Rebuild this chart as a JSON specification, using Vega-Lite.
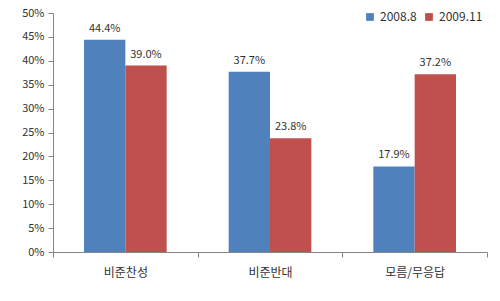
{
  "$schema": "https://vega.github.io/schema/vega-lite/v6.json",
  "autosize": "none",
  "width": 434,
  "height": 239,
  "padding": {"left": 53, "top": 13, "right": 13, "bottom": 49},
  "background": "white",
  "config": {
    "view": {"stroke": null},
    "font": "Noto Sans CJK KR",
    "axis": {"domainColor": "#868686", "tickColor": "#868686", "labelColor": "#333333", "labelFont": "Noto Sans CJK KR", "grid": false, "title": null}
  },
  "data": {
    "values": [
      {"category": "비준찬성", "series": "2008.8", "value": 0.444},
      {"category": "비준찬성", "series": "2009.11", "value": 0.390},
      {"category": "비준반대", "series": "2008.8", "value": 0.377},
      {"category": "비준반대", "series": "2009.11", "value": 0.238},
      {"category": "모름/무응답", "series": "2008.8", "value": 0.179},
      {"category": "모름/무응답", "series": "2009.11", "value": 0.372}
    ]
  },
  "encoding": {
    "x": {
      "field": "category", "type": "nominal", "sort": null,
      "scale": {"paddingInner": 0, "paddingOuter": 0},
      "axis": {"labelAngle": 0, "tickBand": "extent", "tickSize": 5, "labelFontSize": 12, "labelPadding": 10}
    },
    "xOffset": {"field": "series", "type": "nominal", "scale": {"paddingOuter": 0.75, "paddingInner": 0}},
    "y": {
      "field": "value", "type": "quantitative",
      "scale": {"domain": [0, 0.5]},
      "axis": {"format": ".0%", "values": [0, 0.05, 0.1, 0.15, 0.2, 0.25, 0.3, 0.35, 0.4, 0.45, 0.5], "tickSize": 5, "labelFontSize": 11, "labelPadding": 4}
    }
  },
  "layer": [
    {
      "mark": {"type": "bar"},
      "encoding": {
        "color": {
          "field": "series", "type": "nominal",
          "scale": {"domain": ["2008.8", "2009.11"], "range": ["#4F81BD", "#C0504D"]},
          "legend": {"orient": "none", "legendX": 311, "legendY": -2, "direction": "horizontal", "title": null, "symbolType": "square", "symbolSize": 60, "labelFontSize": 12, "labelColor": "#333333", "columnPadding": 6, "symbolStrokeWidth": 0}
        }
      }
    },
    {
      "mark": {"type": "text", "baseline": "bottom", "dy": -6, "fontSize": 11, "color": "#333333"},
      "encoding": {"text": {"field": "value", "type": "quantitative", "format": ".1%"}}
    }
  ]
}
